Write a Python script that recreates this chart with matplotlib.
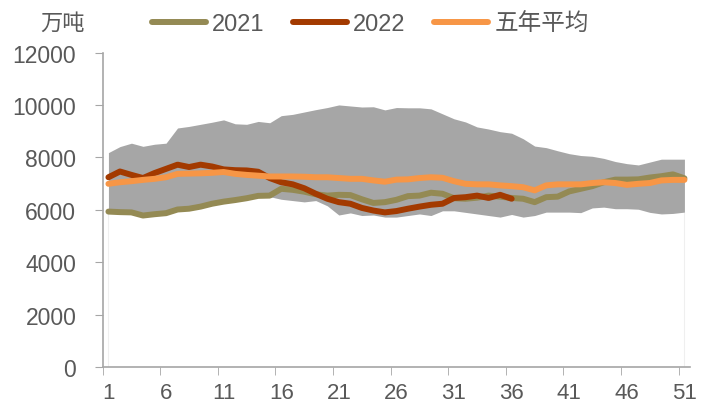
import numpy as np
import matplotlib
matplotlib.use("Agg")
import matplotlib.pyplot as plt

plt.rcParams['font.family'] = ['Liberation Sans', 'Noto Sans CJK SC']

weeks = list(range(1, 52))

y2021 = [5930, 5910, 5900, 5780, 5830, 5870, 6010, 6040, 6120, 6230,
         6310, 6370, 6440, 6530, 6540, 6800, 6760, 6690, 6590, 6540,
         6570, 6560, 6400, 6260, 6290, 6380, 6520, 6540, 6650, 6610,
         6440, 6420, 6460, 6540, 6500, 6450, 6420, 6290, 6480, 6500,
         6700, 6800, 6900, 7050, 7150, 7150, 7160, 7230, 7280, 7350, 7200]

y2022 = [7240, 7460, 7330, 7210, 7400, 7560, 7720, 7630, 7720, 7650,
         7540, 7510, 7500, 7450, 7210, 7050, 6970, 6820, 6610, 6420,
         6290, 6230, 6070, 5970, 5900, 5950, 6040, 6120, 6190, 6230,
         6450, 6480, 6540, 6450, 6570, 6420]

avg5 = [6990, 7050, 7090, 7140, 7180, 7240, 7370, 7380, 7390, 7410,
        7440, 7370, 7330, 7300, 7270, 7270, 7270, 7260, 7240, 7240,
        7210, 7180, 7180, 7120, 7070, 7150, 7160, 7210, 7240, 7220,
        7090, 6990, 6970, 6970, 6930, 6900, 6860, 6740, 6930, 6970,
        6970, 6970, 7020, 7050, 7020, 6950, 6990, 7020, 7120, 7140, 7140]

range_max = [8180, 8410, 8540, 8420, 8500, 8540, 9120, 9180, 9260, 9340,
             9430, 9280, 9260, 9370, 9320, 9590, 9640, 9730, 9820, 9900,
             10000, 9960, 9920, 9930, 9810, 9900, 9890, 9890, 9850, 9660,
             9470, 9350, 9160, 9080, 8980, 8920, 8710, 8430, 8370, 8250,
             8140, 8070, 8040, 7960, 7840, 7760, 7710, 7820, 7930, 7930, 7930]

range_min = [5930, 5910, 5900, 5780, 5830, 5870, 6010, 6040, 6120, 6230,
             6310, 6370, 6440, 6500, 6500, 6400, 6350, 6300, 6350, 6150,
             5800, 5880, 5780, 5800, 5720, 5720, 5780, 5840, 5780, 5960,
             5960, 5900, 5840, 5780, 5720, 5820, 5720, 5780, 5910, 5910,
             5910, 5890, 6070, 6100, 6040, 6040, 6020, 5900, 5840, 5860, 5910]

yticks = [0, 2000, 4000, 6000, 8000, 10000, 12000]
xlabels = list(range(1, 52, 5))

txt = '#595959'
axc = '#A6A6A6'

fig = plt.figure(figsize=(7.13, 4.10), dpi=100)
ax = fig.add_axes([0.144, 0.1024, 0.824, 0.7671])

# range of past years
ax.fill_between(weeks, range_min, range_max, color='#A6A6A6', lw=0, zorder=1)
ax.vlines([weeks[0], weeks[-1]], 0, [range_min[0], range_min[-1]], color='#EFEFEF', lw=0.8, zorder=0)

ax.plot(weeks, y2021, color='#948A54', lw=4.3, label='2021', zorder=3, solid_capstyle='round')
ax.plot(weeks[:len(y2022)], y2022, color='#A33A00', lw=4.3, label='2022', zorder=4, solid_capstyle='round')
ax.plot(weeks, avg5, color='#F79646', lw=4.3, label='五年平均', zorder=5, solid_capstyle='round')

ax.set_xlim(0.5, 51.5)
ax.set_ylim(0, 12000)
ax.set_yticks(yticks)
ax.set_xticks(xlabels)
ax.set_xticks(np.arange(0.5, 51, 5), minor=True)
ax.tick_params(axis='x', which='major', length=0, pad=11, labelsize=16, labelcolor=txt)
ax.tick_params(axis='x', which='minor', length=6, color=axc, direction='out')
ax.tick_params(axis='y', length=6, color=axc, pad=13, labelsize=16.5, labelcolor=txt)

for s in ['top', 'right']:
    ax.spines[s].set_visible(False)
for s in ['left', 'bottom']:
    ax.spines[s].set_color(axc)
    ax.spines[s].set_linewidth(1.2)

fig.text(40 / 713, 1 - 24 / 410, '万吨', fontsize=16, color=txt, va='center', ha='left')

fig.legend(loc='center left', bbox_to_anchor=(152 / 713, 1 - 25 / 410), ncol=3,
           frameon=False, fontsize=17, labelcolor=txt, handlelength=2.3,
           handletextpad=0.25, columnspacing=1.2, borderpad=0, borderaxespad=0)

fig.savefig('out.png', dpi=100)
